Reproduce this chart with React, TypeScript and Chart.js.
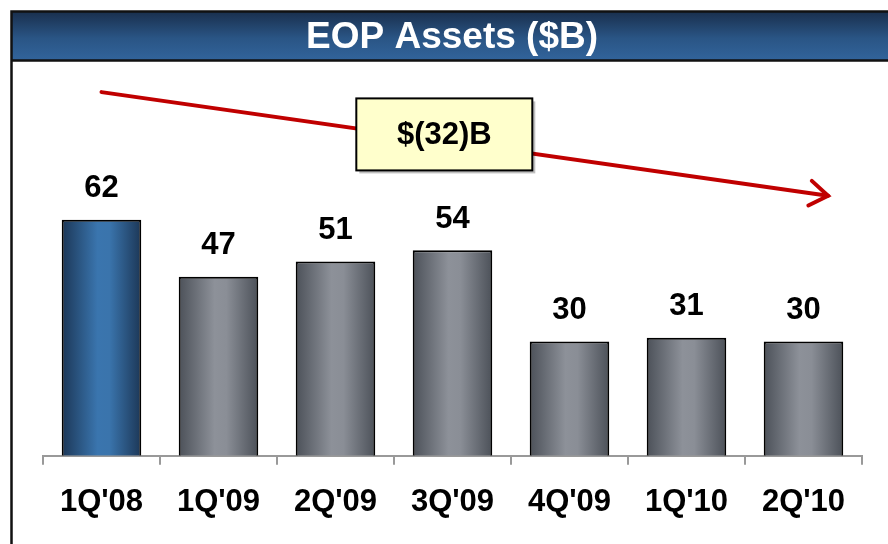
import React, { useEffect, useRef } from "react";
import { Chart, registerables } from "chart.js";

Chart.register(...registerables);

const categories = ["1Q'08", "1Q'09", "2Q'09", "3Q'09", "4Q'09", "1Q'10", "2Q'10"];
const assets = [62, 47, 51, 54, 30, 31, 30];
const titleText = "EOP Assets ($B)";
const changeLabel = "$(32)B";
// trend arrow endpoints in data units: [categoryIndex, value]
const arrowStart = [0, 95.5];
const arrowEnd = [6.21, 68.3];
// callout box centre in data units
const calloutAt = [2.93, 84.4];

const FONT = "Arial, 'Liberation Sans', Helvetica, sans-serif";
const BAR_PCT = 0.68;

export default function App() {
  const ref = useRef<HTMLCanvasElement | null>(null);

  useEffect(() => {
    const canvas = ref.current!;
    const framePlugin = {
      id: "frame",
      beforeDraw(chart: any) {
        const ctx = chart.ctx;
        const W = chart.width;
        ctx.save();
        ctx.fillStyle = "#ffffff";
        ctx.fillRect(0, 0, W, chart.height);
        // title bar
        const g = ctx.createLinearGradient(0, 13, 0, 59);
        g.addColorStop(0, "#1a3150");
        g.addColorStop(0.55, "#2a5585");
        g.addColorStop(1, "#31639a");
        ctx.fillStyle = g;
        ctx.fillRect(11, 11, W, 50);
        ctx.strokeStyle = "#111111";
        ctx.lineWidth = 2.5;
        ctx.beginPath();
        ctx.moveTo(W + 5, 11.5);
        ctx.lineTo(11.5, 11.5);
        ctx.lineTo(11.5, chart.height + 5);
        ctx.moveTo(11.5, 60.5);
        ctx.lineTo(W + 5, 60.5);
        ctx.stroke();
        ctx.fillStyle = "#ffffff";
        ctx.font = `bold 37px ${FONT}`;
        ctx.textAlign = "center";
        ctx.textBaseline = "middle";
        ctx.fillText(titleText, 452, 38);
        ctx.restore();
      },
      afterDatasetsDraw(chart: any) {
        const ctx = chart.ctx;
        const xs = chart.scales.x;
        const ys = chart.scales.y;
        ctx.save();
        // value labels
        const meta = chart.getDatasetMeta(0);
        ctx.fillStyle = "#000000";
        ctx.font = `bold 31px ${FONT}`;
        ctx.textAlign = "center";
        ctx.textBaseline = "middle";
        meta.data.forEach((bar: any, i: number) => {
          ctx.fillText(String(assets[i]), bar.x, bar.y - 31);
        });
        // arrow
        const x1 = xs.getPixelForValue(arrowStart[0]);
        const y1 = ys.getPixelForValue(arrowStart[1]);
        const x2 = xs.getPixelForValue(arrowEnd[0]);
        const y2 = ys.getPixelForValue(arrowEnd[1]);
        ctx.strokeStyle = "#c00000";
        ctx.lineWidth = 4;
        ctx.lineCap = "round";
        ctx.lineJoin = "miter";
        ctx.beginPath();
        ctx.moveTo(x1, y1);
        ctx.lineTo(x2, y2);
        ctx.stroke();
        const ang = Math.atan2(y2 - y1, x2 - x1);
        const hl = 22;
        const spread = 0.6;
        ctx.beginPath();
        ctx.moveTo(x2 - hl * Math.cos(ang - spread), y2 - hl * Math.sin(ang - spread));
        ctx.lineTo(x2, y2);
        ctx.lineTo(x2 - hl * Math.cos(ang + spread), y2 - hl * Math.sin(ang + spread));
        ctx.stroke();
        // callout box
        const cx = xs.getPixelForValue(calloutAt[0]);
        const cy = ys.getPixelForValue(calloutAt[1]);
        const bw = 176, bh = 72;
        const bx = cx - bw / 2, by = cy - bh / 2;
        ctx.fillStyle = "rgba(0,0,0,0.25)";
        ctx.fillRect(bx + 3, by + 3, bw, bh);
        ctx.fillStyle = "#ffffcc";
        ctx.fillRect(bx, by, bw, bh);
        ctx.strokeStyle = "#000000";
        ctx.lineWidth = 2;
        ctx.strokeRect(bx, by, bw, bh);
        ctx.fillStyle = "#000000";
        ctx.font = `bold 31px ${FONT}`;
        ctx.textAlign = "center";
        ctx.textBaseline = "middle";
        ctx.fillText(changeLabel, cx, cy + 1);
        ctx.restore();
      },
    };

    const barFill = (context: any) => {
      const chart = context.chart;
      const xs = chart.scales && chart.scales.x;
      if (!chart.chartArea || !xs) return "#888888";
      const center = xs.getPixelForValue(context.dataIndex);
      const cw = (chart.chartArea.right - chart.chartArea.left) / categories.length;
      const w = cw * BAR_PCT;
      const left = center - w / 2;
      if (!Number.isFinite(left) || !Number.isFinite(w)) return "#888888";
      const g = chart.ctx.createLinearGradient(left, 0, left + w, 0);
      if (context.dataIndex === 0) {
        g.addColorStop(0, "#1c3757");
        g.addColorStop(0.45, "#3a75ae");
        g.addColorStop(0.6, "#3a74ac");
        g.addColorStop(1, "#1c3757");
      } else {
        g.addColorStop(0, "#4c5159");
        g.addColorStop(0.45, "#8d9199");
        g.addColorStop(0.6, "#8a8e96");
        g.addColorStop(1, "#4c5159");
      }
      return g;
    };

    const chart = new Chart(canvas, {
      type: "bar",
      data: {
        labels: categories,
        datasets: [
          {
            data: assets,
            backgroundColor: barFill,
            borderColor: "#000000",
            borderWidth: 2,
            categoryPercentage: 1,
            barPercentage: BAR_PCT,
          },
        ],
      },
      options: {
        animation: false,
        responsive: false,
        maintainAspectRatio: false,
        layout: { padding: { left: 43, right: 26, top: 75, bottom: 4 } },
        plugins: {
          legend: { display: false },
          tooltip: { enabled: false },
          title: { display: false },
        },
        scales: {
          x: {
            grid: {
              display: true,
              drawOnChartArea: false,
              drawTicks: true,
              tickLength: 9,
              color: "#999999",
              lineWidth: 2,
              offset: true,
            },
            border: { display: true, color: "#999999", width: 2 },
            ticks: {
              color: "#000000",
              padding: 19,
              font: { family: FONT, size: 31, weight: "bold" },
              maxRotation: 0,
              autoSkip: false,
            },
          },
          y: {
            display: false,
            min: 0,
            max: 100,
          },
        },
      },
      plugins: [framePlugin],
    });
    return () => chart.destroy();
  }, []);

  return (
    <div style={{ position: "absolute", left: 0, top: 0, width: 888, height: 544 }}>
      <canvas ref={ref} width={888} height={544} style={{ display: "block" }} />
    </div>
  );
}
